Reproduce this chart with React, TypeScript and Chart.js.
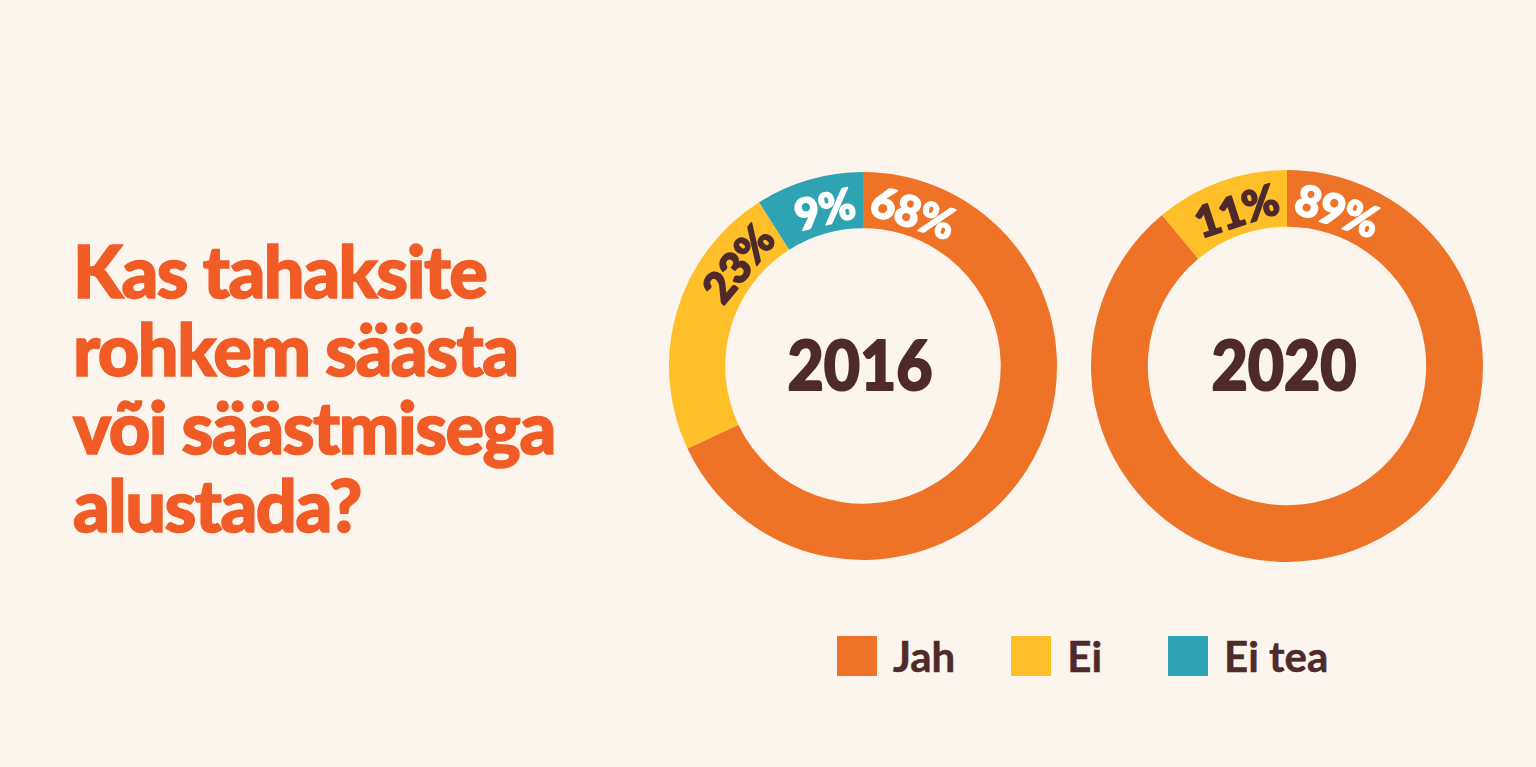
import React, { useEffect, useRef } from "react";
import { Chart, registerables } from "chart.js";

Chart.register(...registerables);

const categories = ["Jah", "Ei", "Ei tea"];
const years = ["2016", "2020"];
const values2016 = [68, 23, 9];
const values2020 = [89, 11, 0];
const titleLines = ["Kas tahaksite", "rohkem säästa", "või säästmisega", "alustada?"];

const sliceColors = ["#EF7327", "#FEBF29", "#2EA3B1"];
const labelColors = ["#FFFFFF", "#4E2A2B", "#FFFFFF"];
const DARK = "#4E2A2B";
const BG = "#FCF5EE";
const TITLE = "#F15B25";
const FONT = "Lato, 'Noto Sans', sans-serif";

const ringPlugin = {
  id: "ringLabels",
  afterDatasetsDraw(chart: any, _args: any, opts: any) {
    const ctx = chart.ctx;
    const meta = chart.getDatasetMeta(0);
    const data = chart.data.datasets[0].data as number[];
    ctx.save();
    ctx.textAlign = "center";
    ctx.textBaseline = "middle";
    ctx.lineJoin = "round";
    meta.data.forEach((arc: any, i: number) => {
      if (!data[i]) return;
      const p = arc.getProps(["x", "y", "startAngle", "endAngle", "innerRadius", "outerRadius"], true);
      const text = data[i] + "%";
      ctx.font = `900 43px ${FONT}`;
      const w = ctx.measureText(text).width;
      const r = (p.innerRadius + p.outerRadius) / 2 - 4;
      const h = w / 2 / r + (3 * Math.PI) / 180;
      const s = p.startAngle;
      const e = p.endAngle;
      const target = (s + e) / 2 < Math.PI / 2 ? -Math.PI / 2 : (3 * Math.PI) / 2;
      let a = Math.min(Math.max(target, s + h), e - h);
      if (s + h > e - h) a = (s + e) / 2;
      ctx.save();
      ctx.translate(p.x + r * Math.cos(a), p.y + r * Math.sin(a));
      ctx.rotate(a + Math.PI / 2);
      ctx.fillStyle = labelColors[i];
      ctx.strokeStyle = labelColors[i];
      ctx.lineWidth = 1.6;
      ctx.fillText(text, 0, 2);
      ctx.strokeText(text, 0, 2);
      ctx.restore();
    });
    const arc0: any = meta.data[0];
    if (arc0 && opts && opts.text) {
      ctx.save();
      ctx.translate(arc0.x - 3, arc0.y + 2);
      ctx.scale(0.92, 1);
      ctx.font = `900 68px ${FONT}`;
      ctx.fillStyle = DARK;
      ctx.strokeStyle = DARK;
      ctx.lineWidth = 2;
      ctx.fillText(opts.text, 0, 0);
      ctx.strokeText(opts.text, 0, 0);
      ctx.restore();
    }
    ctx.restore();
  },
};

function Donut({ values, year, size, left, top }: { values: number[]; year: string; size: number; left: number; top: number }) {
  const ref = useRef<HTMLCanvasElement | null>(null);
  useEffect(() => {
    if (!ref.current) return;
    const chart = new Chart(ref.current, {
      type: "doughnut",
      data: {
        labels: categories,
        datasets: [
          {
            data: values,
            backgroundColor: sliceColors,
            borderWidth: 0,
            hoverOffset: 0,
          },
        ],
      },
      options: {
        animation: false,
        responsive: false,
        maintainAspectRatio: false,
        cutout: "71%",
        layout: { padding: 0 },
        events: [],
        plugins: {
          legend: { display: false },
          tooltip: { enabled: false },
          ringLabels: { text: year },
        } as any,
      },
      plugins: [ringPlugin],
    });
    return () => chart.destroy();
  }, [values, year]);
  return (
    <canvas
      ref={ref}
      width={size}
      height={size}
      style={{ position: "absolute", left, top, width: size, height: size }}
    />
  );
}

export default function App() {
  return (
    <div style={{ position: "fixed", inset: 0, background: BG, overflow: "hidden", fontFamily: FONT }}>
      <div
        style={{
          position: "absolute",
          left: 73,
          top: 231,
          color: TITLE,
          fontSize: 72,
          fontWeight: 900,
          lineHeight: "78px",
          letterSpacing: "-1.5px",
          whiteSpace: "nowrap",
          WebkitTextStroke: `1.5px ${TITLE}`,
        } as any}
      >
        {titleLines.map((l) => (
          <div key={l}>{l}</div>
        ))}
      </div>
      <Donut values={values2016} year={years[0]} size={388} left={669} top={172} />
      <Donut values={values2020} year={years[1]} size={392} left={1091} top={170} />
      <div
        style={{
          position: "absolute",
          left: 837,
          top: 626,
          height: 60,
          display: "flex",
          alignItems: "center",
          color: DARK,
          fontSize: 42,
          fontWeight: 700,
          whiteSpace: "nowrap",
        }}
      >
        {categories.map((c, i) => (
          <div key={c} style={{ display: "flex", alignItems: "center", marginRight: i === 0 ? 56 : 66 }}>
            <div style={{ width: 40, height: 40, background: sliceColors[i], marginRight: 16 }} />
            <span style={{ lineHeight: "40px", WebkitTextStroke: `0.5px ${DARK}` } as any}>{c}</span>
          </div>
        ))}
      </div>
    </div>
  );
}
